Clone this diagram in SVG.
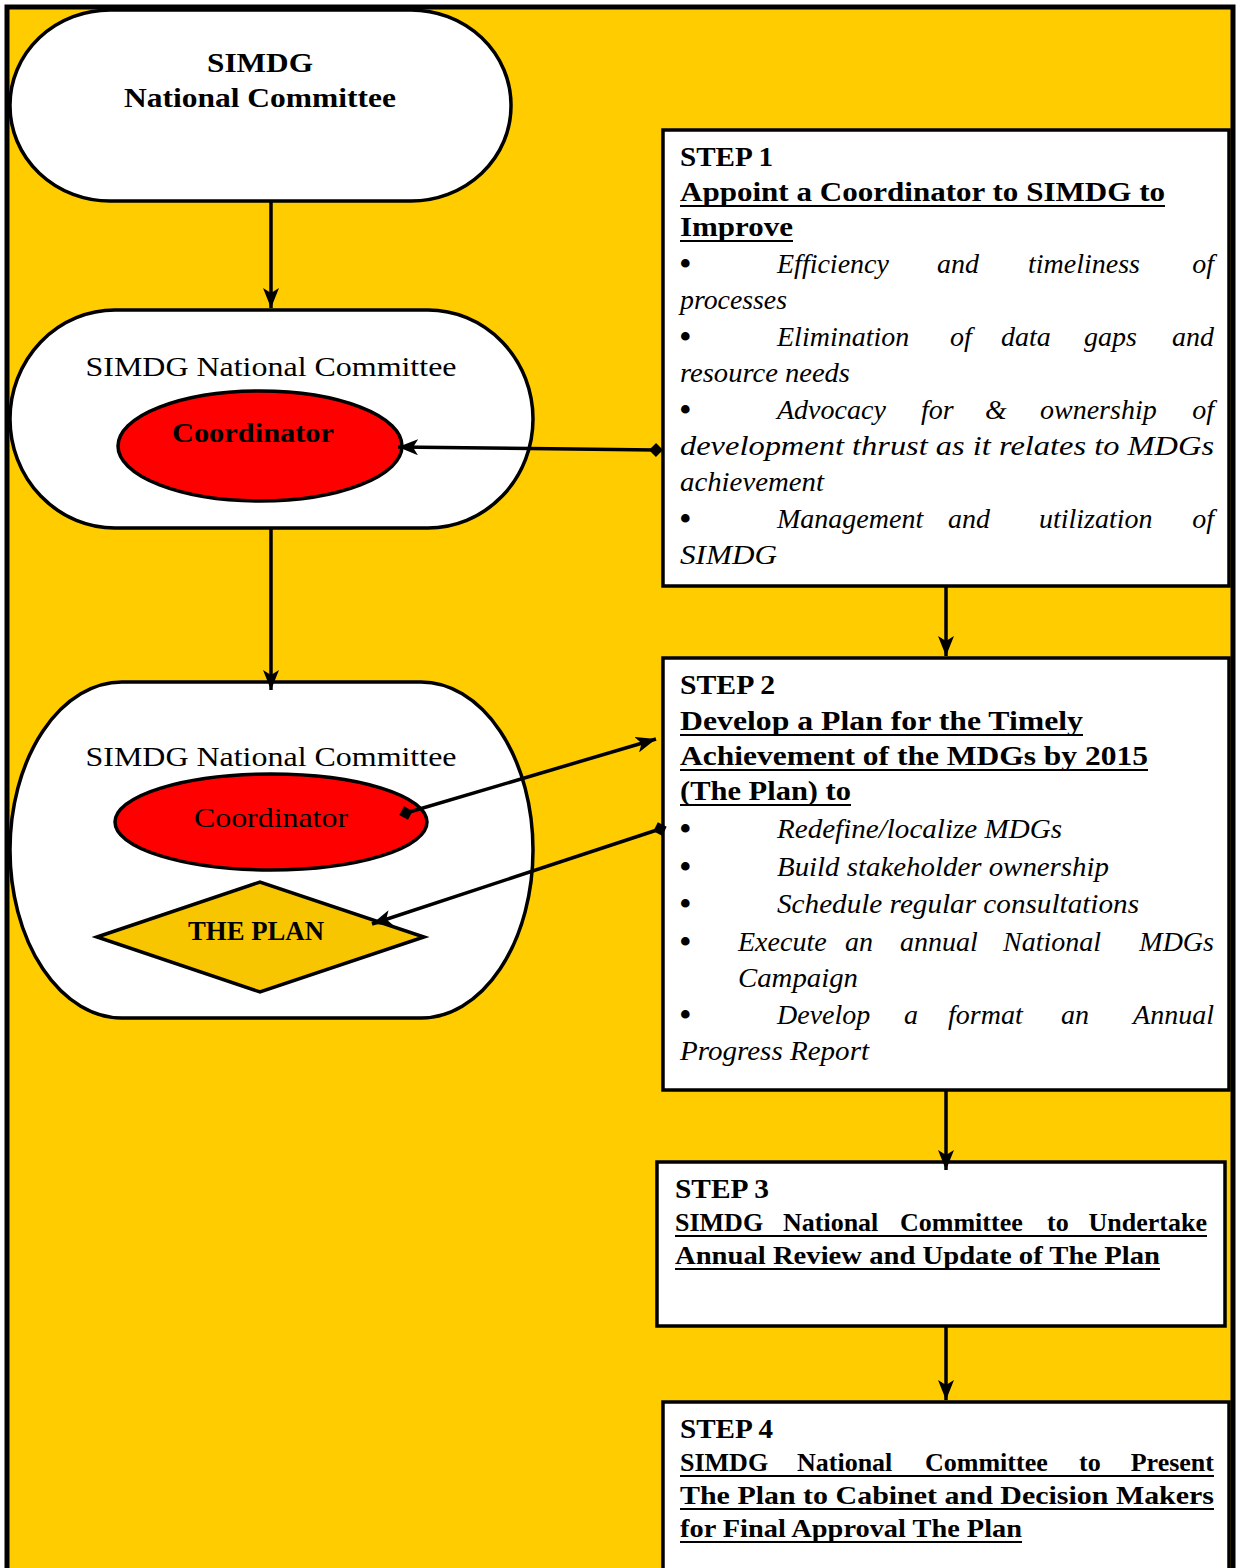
<svg xmlns="http://www.w3.org/2000/svg" width="1236" height="1568" viewBox="0 0 1236 1568">
<defs>
<style>
.t{font-family:"Liberation Serif","Times New Roman",serif;font-size:28px;fill:#000}
.b{font-weight:bold}
.i{font-style:italic}
.s3{font-size:26px}
.bul{font-family:"Liberation Serif","Times New Roman",serif;font-size:36px;fill:#000}
.node{stroke:#000;stroke-width:3.5}
.box{fill:#fff;stroke:#000;stroke-width:3.5}
.con{stroke:#000;stroke-width:3.5;fill:none}
.ul{stroke:#000;stroke-width:2}
</style>
<marker id="arr" viewBox="0 0 20 16" refX="20" refY="8" markerWidth="20" markerHeight="16" markerUnits="userSpaceOnUse" orient="auto-start-reverse">
<path d="M0,0 L20,8 L0,16 L5,8 z" fill="#000"/>
</marker>
<marker id="dia" viewBox="0 0 14 14" refX="7" refY="7" markerWidth="14" markerHeight="14" markerUnits="userSpaceOnUse" orient="auto">
<path d="M0,7 L7,0 L14,7 L7,14 z" fill="#000"/>
</marker>
</defs>
<rect x="7" y="7" width="1226" height="1572" fill="#FFCC00" stroke="#000" stroke-width="5"/>

<g id="committee-top">
<rect class="node" x="10" y="10" width="501" height="191" rx="100" ry="95" fill="#fff"/>
<text class="t b" x="260" y="72" text-anchor="middle" textLength="106" lengthAdjust="spacingAndGlyphs">SIMDG</text>
<text class="t b" x="260" y="107" text-anchor="middle" textLength="272" lengthAdjust="spacingAndGlyphs">National Committee</text>
</g>

<g id="committee-coordinator">
<rect class="node" x="10" y="310" width="523" height="218" rx="105" ry="109" fill="#fff"/>
<text class="t" x="271" y="376" text-anchor="middle" textLength="371" lengthAdjust="spacingAndGlyphs">SIMDG National Committee</text>
<ellipse class="node" cx="260" cy="446" rx="142" ry="55" fill="#FF0000" stroke-width="2.5"/>
<text class="t b" x="253" y="442" text-anchor="middle" textLength="162" lengthAdjust="spacingAndGlyphs">Coordinator</text>
</g>

<g id="committee-plan">
<rect class="node" x="10" y="682" width="523" height="336" rx="112" ry="168" fill="#fff"/>
<text class="t" x="271" y="766" text-anchor="middle" textLength="371" lengthAdjust="spacingAndGlyphs">SIMDG National Committee</text>
<ellipse class="node" cx="271" cy="822" rx="156" ry="48" fill="#FF0000" stroke-width="2"/>
<text class="t" x="271" y="827" text-anchor="middle" textLength="154" lengthAdjust="spacingAndGlyphs">Coordinator</text>
<polygon class="node" points="97,937 260,882 424,937 260,992" fill="#F7C600" stroke-width="2"/>
<text class="t b" x="256" y="940" text-anchor="middle" textLength="136" lengthAdjust="spacingAndGlyphs">THE PLAN</text>
</g>

<g id="step1">
<rect class="box" x="663" y="130" width="566" height="456"/>
<text class="t b" x="680" y="166" textLength="93" lengthAdjust="spacingAndGlyphs">STEP 1</text>
<text class="t b" x="680" y="201" textLength="485" lengthAdjust="spacingAndGlyphs">Appoint a Coordinator to SIMDG to</text>
<text class="t b" x="680" y="236" textLength="113" lengthAdjust="spacingAndGlyphs">Improve</text>
<line class="ul" x1="680" y1="206" x2="1165" y2="206"/>
<line class="ul" x1="680" y1="241" x2="793" y2="241"/>
<text class="bul" x="679" y="276">•</text>
<text class="t i"><tspan x="777" y="273">Efficiency</tspan><tspan x="937" y="273">and</tspan><tspan x="1028" y="273">timeliness</tspan><tspan x="1214" y="273" text-anchor="end">of</tspan></text>
<text class="t i" x="680" y="309" textLength="107" lengthAdjust="spacingAndGlyphs">processes</text>
<text class="bul" x="679" y="349">•</text>
<text class="t i"><tspan x="777" y="346">Elimination</tspan><tspan x="950" y="346">of</tspan><tspan x="1001" y="346">data</tspan><tspan x="1084" y="346">gaps</tspan><tspan x="1214" y="346" text-anchor="end">and</tspan></text>
<text class="t i" x="680" y="382" textLength="170" lengthAdjust="spacingAndGlyphs">resource needs</text>
<text class="bul" x="679" y="422">•</text>
<text class="t i"><tspan x="777" y="419">Advocacy</tspan><tspan x="921" y="419">for</tspan><tspan x="985" y="419">&amp;</tspan><tspan x="1040" y="419">ownership</tspan><tspan x="1214" y="419" text-anchor="end">of</tspan></text>
<text class="t i" x="680" y="455" textLength="534" lengthAdjust="spacingAndGlyphs">development thrust as it relates to MDGs</text>
<text class="t i" x="680" y="491" textLength="144" lengthAdjust="spacingAndGlyphs">achievement</text>
<text class="bul" x="679" y="531">•</text>
<text class="t i"><tspan x="777" y="528">Management</tspan><tspan x="948" y="528">and</tspan><tspan x="1039" y="528">utilization</tspan><tspan x="1214" y="528" text-anchor="end">of</tspan></text>
<text class="t i" x="680" y="564" textLength="97" lengthAdjust="spacingAndGlyphs">SIMDG</text>
</g>

<g id="step2">
<rect class="box" x="663" y="658" width="566" height="432"/>
<text class="t b" x="680" y="694" textLength="95" lengthAdjust="spacingAndGlyphs">STEP 2</text>
<text class="t b" x="680" y="730" textLength="403" lengthAdjust="spacingAndGlyphs">Develop a Plan for the Timely</text>
<text class="t b" x="680" y="765" textLength="468" lengthAdjust="spacingAndGlyphs">Achievement of the MDGs by 2015</text>
<text class="t b" x="680" y="800" textLength="171" lengthAdjust="spacingAndGlyphs">(The Plan) to</text>
<line class="ul" x1="680" y1="735" x2="1083" y2="735"/>
<line class="ul" x1="680" y1="770" x2="1148" y2="770"/>
<line class="ul" x1="680" y1="805" x2="851" y2="805"/>
<text class="bul" x="679" y="841">•</text>
<text class="t i" x="777" y="838" textLength="285" lengthAdjust="spacingAndGlyphs">Redefine/localize MDGs</text>
<text class="bul" x="679" y="879">•</text>
<text class="t i" x="777" y="876" textLength="332" lengthAdjust="spacingAndGlyphs">Build stakeholder ownership</text>
<text class="bul" x="679" y="916">•</text>
<text class="t i" x="777" y="913" textLength="362" lengthAdjust="spacingAndGlyphs">Schedule regular consultations</text>
<text class="bul" x="679" y="954">•</text>
<text class="t i"><tspan x="738" y="951">Execute</tspan><tspan x="845" y="951">an</tspan><tspan x="900" y="951">annual</tspan><tspan x="1003" y="951">National</tspan><tspan x="1214" y="951" text-anchor="end">MDGs</tspan></text>
<text class="t i" x="738" y="987" textLength="120" lengthAdjust="spacingAndGlyphs">Campaign</text>
<text class="bul" x="679" y="1027">•</text>
<text class="t i"><tspan x="777" y="1024">Develop</tspan><tspan x="904" y="1024">a</tspan><tspan x="948" y="1024">format</tspan><tspan x="1061" y="1024">an</tspan><tspan x="1214" y="1024" text-anchor="end">Annual</tspan></text>
<text class="t i" x="680" y="1060" textLength="189" lengthAdjust="spacingAndGlyphs">Progress Report</text>
</g>

<g id="step3">
<rect class="box" x="657" y="1162" width="568" height="164"/>
<text class="t b" x="675" y="1198" textLength="94" lengthAdjust="spacingAndGlyphs">STEP 3</text>
<text class="t b s3"><tspan x="675" y="1231">SIMDG</tspan><tspan x="783" y="1231">National</tspan><tspan x="900" y="1231">Committee</tspan><tspan x="1047" y="1231">to</tspan><tspan x="1207" y="1231" text-anchor="end">Undertake</tspan></text>
<text class="t b s3" x="675" y="1264" textLength="485" lengthAdjust="spacingAndGlyphs">Annual Review and Update of The Plan</text>
<line class="ul" x1="675" y1="1236" x2="1207" y2="1236"/>
<line class="ul" x1="675" y1="1269" x2="1160" y2="1269"/>
</g>

<g id="step4">
<rect class="box" x="663" y="1402" width="566" height="180"/>
<text class="t b" x="680" y="1438" textLength="93" lengthAdjust="spacingAndGlyphs">STEP 4</text>
<text class="t b s3"><tspan x="680" y="1471">SIMDG</tspan><tspan x="797" y="1471">National</tspan><tspan x="925" y="1471">Committee</tspan><tspan x="1079" y="1471">to</tspan><tspan x="1214" y="1471" text-anchor="end">Present</tspan></text>
<text class="t b s3" x="680" y="1504" textLength="534" lengthAdjust="spacingAndGlyphs">The Plan to Cabinet and Decision Makers</text>
<text class="t b s3" x="680" y="1537" textLength="342" lengthAdjust="spacingAndGlyphs">for Final Approval The Plan</text>
<line class="ul" x1="680" y1="1476" x2="1214" y2="1476"/>
<line class="ul" x1="680" y1="1509" x2="1214" y2="1509"/>
<line class="ul" x1="680" y1="1542" x2="1022" y2="1542"/>
</g>

<g id="connectors">
<line class="con" x1="271" y1="201" x2="271" y2="308" marker-end="url(#arr)"/>
<line class="con" x1="271" y1="528" x2="271" y2="690" marker-end="url(#arr)"/>
<line class="con" x1="656" y1="450" x2="398" y2="447" marker-start="url(#dia)" marker-end="url(#arr)"/>
<line class="con" x1="406" y1="813" x2="656" y2="739" marker-start="url(#dia)" marker-end="url(#arr)"/>
<line class="con" x1="660" y1="829" x2="372" y2="924" marker-start="url(#dia)" marker-end="url(#arr)"/>
<line class="con" x1="946" y1="586" x2="946" y2="656" marker-end="url(#arr)"/>
<line class="con" x1="946" y1="1090" x2="946" y2="1170" marker-end="url(#arr)"/>
<line class="con" x1="946" y1="1326" x2="946" y2="1400" marker-end="url(#arr)"/>
</g>
</svg>
